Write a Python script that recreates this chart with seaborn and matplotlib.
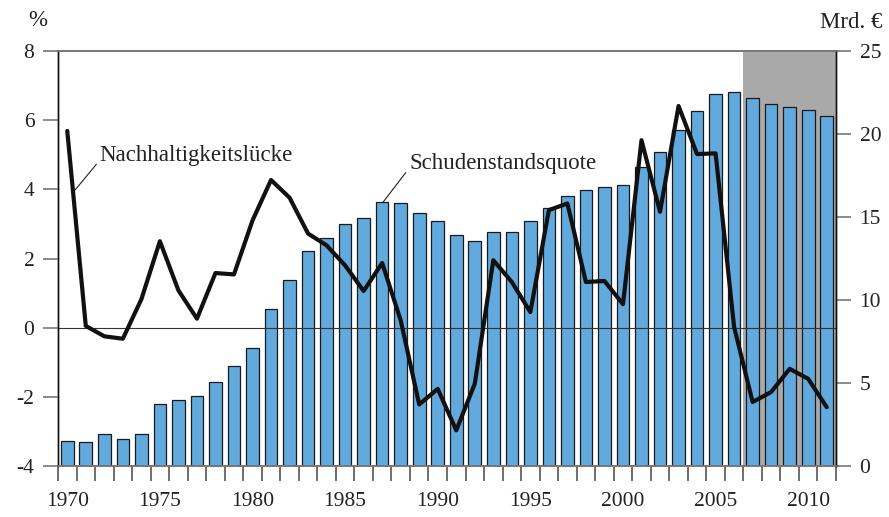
import matplotlib
matplotlib.use("Agg")
import matplotlib.pyplot as plt
import seaborn as sns
import pandas as pd
import numpy as np
from matplotlib.ticker import FixedLocator

years = list(range(1970, 2012))
debt = [1.49, 1.45, 1.91, 1.63, 1.95, 3.72, 3.98, 4.24, 5.08, 6.0, 7.13, 9.46,
        11.19, 12.93, 13.73, 14.56, 14.92, 15.9, 15.82, 15.26, 14.78, 13.92,
        13.55, 14.08, 14.08, 14.78, 15.54, 16.27, 16.63, 16.79, 16.9, 18.0,
        18.9, 20.24, 21.39, 22.39, 22.51, 22.15, 21.83, 21.63, 21.43, 21.07]
gap = [5.69, 0.05, -0.25, -0.32, 0.82, 2.5, 1.08, 0.26, 1.58, 1.54,
       3.1, 4.27, 3.76, 2.72, 2.38, 1.8, 1.06, 1.87, 0.21, -2.22,
       -1.77, -2.97, -1.62, 1.95, 1.32, 0.45, 3.4, 3.59, 1.32, 1.35,
       0.68, 5.42, 3.35, 6.41, 5.02, 5.04, 0.02, -2.15, -1.86, -1.19, -1.48, -2.3]
left_ticks = [-4, -2, 0, 2, 4, 6, 8]
right_ticks = [0, 5, 10, 15, 20, 25]
year_labels = [1970, 1975, 1980, 1985, 1990, 1995, 2000, 2005, 2010]
forecast_start = 2007

sns.set_theme(style="white")
plt.rcParams['font.family'] = ['Liberation Serif', 'DejaVu Serif']
plt.rcParams['axes.unicode_minus'] = False

TXT = "#222222"
FS_TICK = 15.5
FS_LAB = 16.5

df = pd.DataFrame({"year": [str(y) for y in years], "debt": debt, "gap": gap,
                   "pos": np.arange(len(years))})

fig = plt.figure(figsize=(8.89, 5.17), dpi=100)
ax = fig.add_axes([58/889, 51/517, (836-58)/889, (466-51)/517])
ax2 = ax.twinx()

ax.axvspan(years.index(forecast_start) - 0.5, len(years) - 0.5, color="#a9a9a9", zorder=0, lw=0)
sns.barplot(data=df, x="year", y="debt", ax=ax, color="#62a9dd", saturation=1,
            edgecolor="#1a1a1a", linewidth=0.9, width=0.68, zorder=2)
ax.set_xlim(-0.5, len(years) - 0.5)
ax.set_ylim(0, 25)
ax.set_xlabel("")
ax.set_ylabel("")

major = [years.index(y) for y in year_labels]
ax.xaxis.set_major_locator(FixedLocator(major))
ax.set_xticklabels([str(y) for y in year_labels])
ax.xaxis.set_minor_locator(FixedLocator(np.arange(len(years) + 1) - 0.5))
ax.tick_params(axis="x", which="major", length=0, pad=19, labelsize=FS_TICK, colors=TXT)
ax.tick_params(axis="x", which="minor", length=11, width=1.2, color="#555555",
               direction="out", bottom=True)

sns.lineplot(data=df, x="pos", y="gap", ax=ax2, color="#111111", lw=3.0, zorder=3)
ax2.axhline(0, color="#333333", lw=0.8, zorder=1)
ax2.set_xlabel("")
ax2.set_ylabel("")
ax2.set_xlim(-0.5, len(years) - 0.5)
ax2.set_ylim(-4, 8)

# right axis: Mrd. € (bars); left axis: % (line)
ax.yaxis.tick_right()
ax.set_yticks(right_ticks)
ax.set_yticklabels([str(t) for t in right_ticks])
ax.tick_params(axis="y", which="major", length=11, width=1.2, color="#777777", direction="out",
               labelsize=FS_TICK, labelcolor=TXT, pad=6, right=True, left=False,
               labelright=True, labelleft=False)
ax2.yaxis.tick_left()
ax2.set_yticks(left_ticks)
ax2.set_yticklabels([str(t) for t in left_ticks])
ax2.tick_params(axis="y", which="major", length=11, width=1.2, color="#777777", direction="out",
                labelsize=FS_TICK, labelcolor=TXT, pad=6, left=True, right=False,
                labelleft=True, labelright=False)

for a in (ax, ax2):
    a.spines["top"].set_color("#777777")
    a.spines["top"].set_linewidth(1.2)
    a.spines["bottom"].set_color("#777777")
    a.spines["bottom"].set_linewidth(1.2)
    a.spines["left"].set_color("#111111")
    a.spines["left"].set_linewidth(1.0)
    a.spines["right"].set_color("#111111")
    a.spines["right"].set_linewidth(1.0)

ax2.annotate("Nachhaltigkeitslücke", xy=(0.42, 3.98), xytext=(1.75, 4.99),
             fontsize=FS_LAB, color=TXT, va="center", ha="left",
             arrowprops=dict(arrowstyle="-", lw=0.8, color=TXT, shrinkA=0, shrinkB=0,
                             relpos=(0, 0.25)))
ax2.annotate("Schudenstandsquote", xy=(17.05, 3.63), xytext=(18.45, 4.76),
             fontsize=FS_LAB, color=TXT, va="center", ha="left",
             arrowprops=dict(arrowstyle="-", lw=0.8, color=TXT, shrinkA=0, shrinkB=0,
                             relpos=(0, 0.25)))

fig.text(28/889, 1 - 20/517, "%", fontsize=FS_LAB, color=TXT, ha="left", va="center")
fig.text(882/889, 1 - 22/517, "Mrd. €", fontsize=FS_LAB, color=TXT, ha="right", va="center")

fig.savefig("out.png", dpi=100)
